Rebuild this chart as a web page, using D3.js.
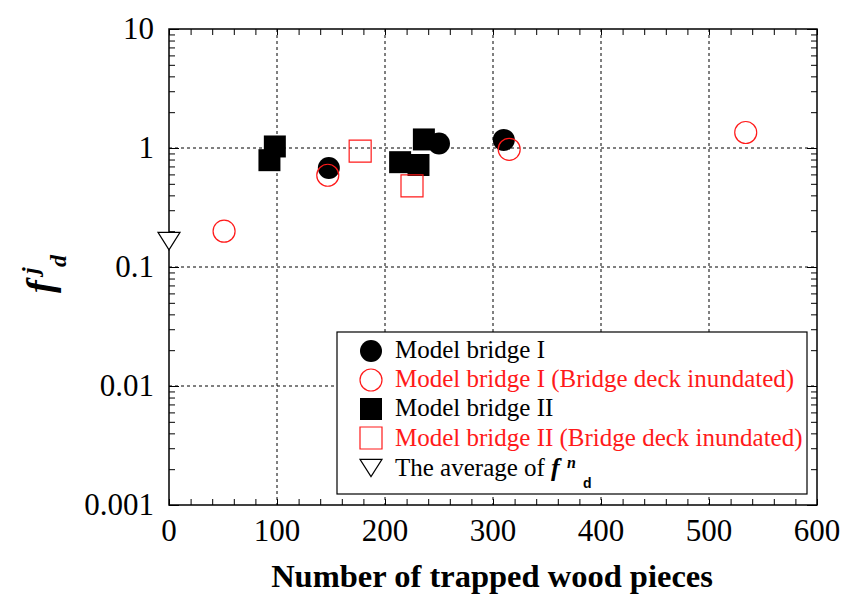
<!DOCTYPE html>
<html>
<head>
<meta charset="utf-8">
<script src="https://cdn.jsdelivr.net/npm/d3@7"></script>
<style>
  html, body { margin: 0; padding: 0; background: #fff; }
  svg { display: block; }
</style>
</head>
<body>
<svg id="chart" width="848" height="594"></svg>
<script>
// Model bridge I (filled circles)
const bridge1X = [148, 250, 310];
const bridge1Y = [0.68, 1.09, 1.17];
// Model bridge I, bridge deck inundated (open red circles)
const bridge1InX = [51, 147, 315, 534];
const bridge1InY = [0.20, 0.59, 0.975, 1.35];
// Model bridge II (filled squares)
const bridge2X = [98, 93, 236, 214, 231];
const bridge2Y = [1.03, 0.79, 1.18, 0.76, 0.72];
// Model bridge II, bridge deck inundated (open red squares)
const bridge2InX = [177, 225];
const bridge2InY = [0.94, 0.48];
// Average of f^n_d (open down triangle)
const avgX = [0];
const avgY = [0.165];

const xTicks = [0, 100, 200, 300, 400, 500, 600];
const yTicks = [0.001, 0.01, 0.1, 1, 10];
const yTickLabels = ["0.001", "0.01", "0.1", "1", "10"];

const svg = d3.select("#chart");
const pL = 169, pR = 817, pT = 29, pB = 505;
const x = d3.scaleLinear().domain([0, 600]).range([pL, pR]);
const y = d3.scaleLog().domain([0.001, 10]).range([pB, pT]);

const serif = "'Liberation Serif', 'Times New Roman', serif";
const RED = "#ff1a1a";

// grid lines
const grid = svg.append("g").attr("stroke", "#000").attr("stroke-width", 1)
  .attr("stroke-dasharray", "3,3").attr("fill", "none");
xTicks.slice(1, -1).forEach(t => {
  grid.append("line").attr("x1", x(t)).attr("x2", x(t)).attr("y1", pT).attr("y2", pB);
});
yTicks.slice(1, -1).forEach(t => {
  grid.append("line").attr("x1", pL).attr("x2", pR).attr("y1", y(t)).attr("y2", y(t));
});

// axes with inward ticks on all four sides
const xMinor = d3.range(0, 601, 20);
const yMinor = [];
for (let e = -3; e < 1; e++) for (let m = 2; m <= 9; m++) yMinor.push(m * Math.pow(10, e));

function styleAxis(g) {
  g.select(".domain").remove();
  g.selectAll("line").attr("stroke", "#000").attr("stroke-width", 1);
}
svg.append("g").attr("transform", `translate(0,${pB})`)
  .call(d3.axisTop(x).tickValues(xMinor).tickSize(6).tickFormat("")).call(styleAxis);
svg.append("g").attr("transform", `translate(0,${pT})`)
  .call(d3.axisBottom(x).tickValues(xMinor).tickSize(6).tickFormat("")).call(styleAxis);
svg.append("g").attr("transform", `translate(${pL},0)`)
  .call(d3.axisRight(y).tickValues(yMinor).tickSize(6).tickFormat("")).call(styleAxis);
svg.append("g").attr("transform", `translate(${pR},0)`)
  .call(d3.axisLeft(y).tickValues(yMinor).tickSize(6).tickFormat("")).call(styleAxis);
svg.append("g").attr("transform", `translate(${pL},0)`)
  .call(d3.axisRight(y).tickValues(yTicks).tickSize(10).tickFormat("")).call(styleAxis);
svg.append("g").attr("transform", `translate(${pR},0)`)
  .call(d3.axisLeft(y).tickValues(yTicks).tickSize(10).tickFormat("")).call(styleAxis);

// frame
svg.append("rect").attr("x", pL).attr("y", pT)
  .attr("width", pR - pL).attr("height", pB - pT)
  .attr("fill", "none").attr("stroke", "#000").attr("stroke-width", 1.5);

// tick labels
svg.append("g").selectAll("text").data(xTicks).join("text")
  .attr("x", d => x(d)).attr("y", pB + 36)
  .attr("text-anchor", "middle")
  .style("font-family", serif).style("font-size", "31px").text(d => d);
svg.append("g").selectAll("text").data(yTicks).join("text")
  .attr("x", pL - 15).attr("y", d => y(d) + 10)
  .attr("text-anchor", "end")
  .style("font-family", serif).style("font-size", "31px")
  .text((d, i) => yTickLabels[i]);

// axis titles
svg.append("text").attr("x", 492).attr("y", 587)
  .attr("text-anchor", "middle")
  .style("font-family", serif).style("font-size", "32.5px").style("font-weight", "bold")
  .text("Number of trapped wood pieces");

const yl = svg.append("g").attr("transform", "translate(53,293) rotate(-90)")
  .style("font-family", serif).style("font-weight", "bold").style("font-style", "italic");
yl.append("text").attr("x", 0).attr("y", 0).style("font-size", "38px").text("f");
yl.append("text").attr("x", 19).attr("y", -15).style("font-size", "24px").text("j");
yl.append("text").attr("x", 26).attr("y", 13).style("font-size", "24px").text("d");

// symbol generators
const triDown = {
  draw(ctx, size) {
    const w = Math.sqrt(size), h = w * 0.79;
    ctx.moveTo(-w / 2, -h / 2);
    ctx.lineTo(w / 2, -h / 2);
    ctx.lineTo(0, h / 2);
    ctx.closePath();
  }
};
const circleSym = d3.symbol().type(d3.symbolCircle).size(Math.PI * 11 * 11);
const squareSym = d3.symbol().type(d3.symbolSquare).size(22 * 22);
const triSym = d3.symbol().type(triDown).size(22 * 22);

function pts(xs, ys) { return xs.map((v, i) => [v, ys[i]]); }

const marks = svg.append("g");
marks.selectAll(".sq2").data(pts(bridge2X, bridge2Y)).join("path")
  .attr("d", squareSym).attr("transform", d => `translate(${x(d[0])},${y(d[1])})`)
  .attr("fill", "#000");
marks.selectAll(".c1").data(pts(bridge1X, bridge1Y)).join("path")
  .attr("d", circleSym).attr("transform", d => `translate(${x(d[0])},${y(d[1])})`)
  .attr("fill", "#000");
marks.selectAll(".c1i").data(pts(bridge1InX, bridge1InY)).join("path")
  .attr("d", circleSym).attr("transform", d => `translate(${x(d[0])},${y(d[1])})`)
  .attr("fill", "none").attr("stroke", RED).attr("stroke-width", 1.2);
marks.selectAll(".sq2i").data(pts(bridge2InX, bridge2InY)).join("path")
  .attr("d", squareSym).attr("transform", d => `translate(${x(d[0])},${y(d[1])})`)
  .attr("fill", "none").attr("stroke", RED).attr("stroke-width", 1.2);
marks.selectAll(".avg").data(pts(avgX, avgY)).join("path")
  .attr("d", triSym).attr("transform", d => `translate(${x(d[0])},${y(d[1])})`)
  .attr("fill", "#fff").attr("stroke", "#000").attr("stroke-width", 1.2);

// legend
const lg = svg.append("g");
lg.append("rect").attr("x", 337).attr("y", 332).attr("width", 470).attr("height", 162)
  .attr("fill", "#fff").attr("stroke", "#000").attr("stroke-width", 1.2);
const legendItems = [
  { sym: circleSym, fill: "#000", stroke: "none", color: "#000", label: "Model bridge I", cy: 351, base: 358 },
  { sym: circleSym, fill: "none", stroke: RED, color: RED, label: "Model bridge I (Bridge deck inundated)", cy: 380, base: 387 },
  { sym: squareSym, fill: "#000", stroke: "none", color: "#000", label: "Model bridge II", cy: 409, base: 416 },
  { sym: squareSym, fill: "none", stroke: RED, color: RED, label: "Model bridge II (Bridge deck inundated)", cy: 438, base: 446 },
  { sym: triSym, fill: "#fff", stroke: "#000", color: "#000", label: "The average of", cy: 468, base: 476 }
];
legendItems.forEach(it => {
  lg.append("path").attr("d", it.sym).attr("transform", `translate(371,${it.cy})`)
    .attr("fill", it.fill).attr("stroke", it.stroke).attr("stroke-width", 1.2);
  lg.append("text").attr("x", 395).attr("y", it.base)
    .style("font-family", serif).style("font-size", "25px").attr("fill", it.color)
    .text(it.label);
});
// f^n_d in last legend row
const fx = 551, fy = 476;
lg.append("text").attr("x", fx).attr("y", fy)
  .style("font-family", serif).style("font-size", "26px").style("font-weight", "bold")
  .style("font-style", "italic").text("f");
lg.append("text").attr("x", fx + 16).attr("y", fy - 8)
  .style("font-family", serif).style("font-size", "16px").style("font-weight", "bold")
  .style("font-style", "italic").text("n");
lg.append("text").attr("x", fx + 32).attr("y", fy + 12)
  .style("font-family", "'Liberation Sans', Arial, sans-serif").style("font-size", "14px")
  .style("font-weight", "bold").text("d");
</script>
</body>
</html>
